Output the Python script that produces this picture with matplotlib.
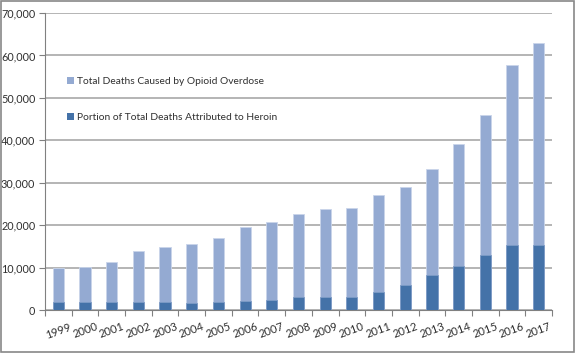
import matplotlib
matplotlib.use('Agg')
import matplotlib.pyplot as plt
from matplotlib.ticker import FuncFormatter

# data
years = [str(y) for y in range(1999, 2018)]
total_deaths = [9900, 10100, 11230, 13980, 14920, 15630, 16890, 19560, 20810, 22630,
                23730, 24120, 27180, 29070, 33160, 39200, 45960, 57670, 63000]
heroin_deaths = [1890, 1840, 1780, 1960, 2000, 1750, 2000, 2090, 2400, 3040,
                 3140, 3040, 4240, 5820, 8180, 10450, 12890, 15320, 15420]

light = '#94AAD2'
dark = '#4472A8'
grid_c = '#A8A8A8'
text_c = '#303030'

plt.rcParams['font.family'] = ['Lato', 'DejaVu Sans']

fig = plt.figure(figsize=(5.75, 3.53), dpi=100)
ax = fig.add_axes([0.0783, 0.1218, 0.8817, 0.8412])

x = list(range(len(years)))
ax.bar(x, total_deaths, width=0.42, color=light, edgecolor='#C9D5EA', linewidth=0.6,
       label='Total Deaths Caused by Opioid Overdose', zorder=3)
ax.bar(x, heroin_deaths, width=0.42, color=dark, edgecolor='#7E9CC6', linewidth=0.6,
       label='Portion of Total Deaths Attributed to Heroin', zorder=4)

ax.set_xlim(-0.5, len(years) - 0.5)
ax.set_ylim(0, 70000)
ax.set_yticks(range(0, 70001, 10000))
ax.yaxis.set_major_formatter(FuncFormatter(lambda v, p: f'{int(v):,}'))
ax.yaxis.grid(True, color=grid_c, linewidth=1.2, zorder=0)
ax.set_axisbelow(True)

# category boundary ticks on x, labels at bar centers
ax.set_xticks([i - 0.5 for i in range(len(years) + 1)])
ax.set_xticklabels([])
ax.set_xticks(x, minor=True)
ax.set_xticklabels(years, minor=True, rotation=20, ha='center', fontsize=8, color=text_c)
ax.tick_params(axis='x', which='minor', length=0, pad=8)
ax.tick_params(axis='x', which='major', length=4, color='#808080', direction='out')
ax.tick_params(axis='y', length=4, color='#808080', labelsize=7.8, labelcolor=text_c, pad=3)

for s in ['top', 'right']:
    ax.spines[s].set_visible(False)
ax.spines['left'].set_color('#808080')
ax.spines['bottom'].set_color('#808080')

handles, labels = ax.get_legend_handles_labels()
leg = ax.legend(handles, labels, loc='upper left', bbox_to_anchor=(0.025, 0.815),
                frameon=False, fontsize=7.4, handlelength=0.7, handleheight=0.7,
                handletextpad=0.3, labelspacing=2.6, labelcolor=text_c)
for h in leg.legend_handles:
    h.set_linewidth(0)

# outer border of the chart
fig.patches.append(plt.Rectangle((0.001, 0.002), 0.997, 0.995, transform=fig.transFigure,
                                 fill=False, edgecolor='#888888', linewidth=1.2))

fig.savefig('out.png', dpi=100)
